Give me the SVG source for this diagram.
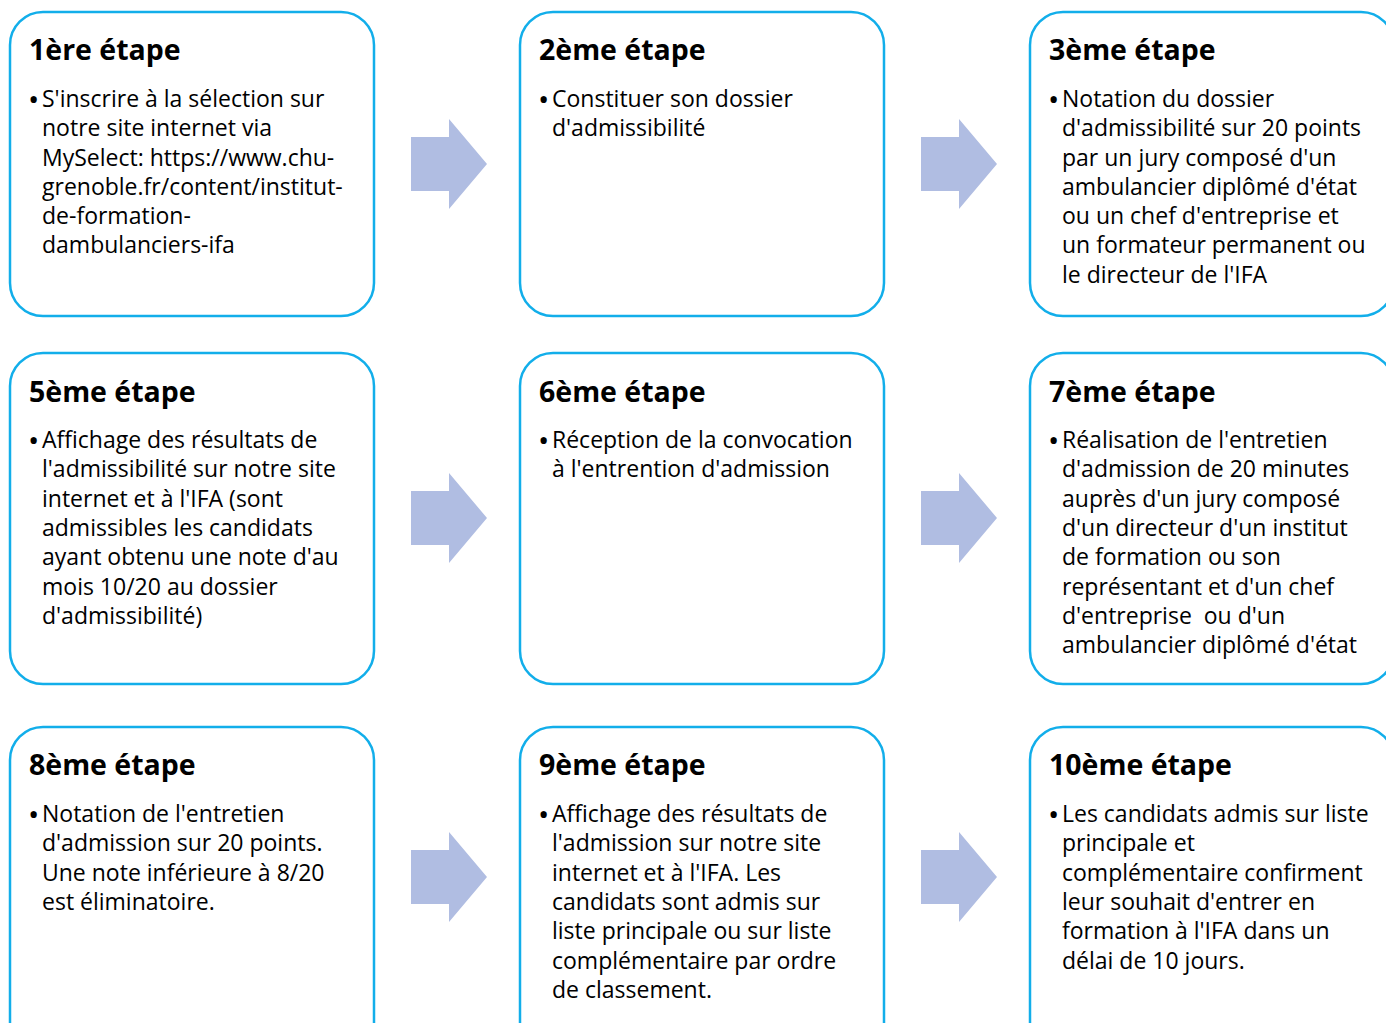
<svg xmlns="http://www.w3.org/2000/svg" width="1386" height="1023" viewBox="0 0 1386 1023">
<style>
.box{fill:#fff;stroke:#12AEEA;stroke-width:2.5}
.arr{fill:#B0BDE2}
.t{font-family:"Open Sans","Liberation Sans",sans-serif;font-weight:bold;font-size:28.5px;fill:#000}
.b{font-family:"Open Sans","Liberation Sans",sans-serif;font-size:23px;fill:#000}
.d{font-family:"Open Sans","Liberation Sans",sans-serif;font-size:30px;fill:#000}
</style>
<rect width="1386" height="1023" fill="#fff"/>
<g id="connectors">
<path class="arr" d="M411,137H449V119L487,164L449,209V191H411Z"/>
<path class="arr" d="M921,137H959V119L997,164L959,209V191H921Z"/>
<path class="arr" d="M411,491H449V473L487,518L449,563V545H411Z"/>
<path class="arr" d="M921,491H959V473L997,518L959,563V545H921Z"/>
<path class="arr" d="M411,850H449V832L487,877L449,922V904H411Z"/>
<path class="arr" d="M921,850H959V832L997,877L959,922V904H921Z"/>
</g>
<g id="step1">
<rect class="box" x="10" y="12" width="364" height="304" rx="33"/>
<text class="t" x="29" y="60">1ère étape</text>
<text class="d" x="28" y="110">•</text>
<text class="b"><tspan x="42" y="107">S'inscrire à la sélection sur</tspan><tspan x="42" y="136">notre site internet via</tspan><tspan x="42" y="166">MySelect: https://www.chu-</tspan><tspan x="42" y="195">grenoble.fr/content/institut-</tspan><tspan x="42" y="224">de-formation-</tspan><tspan x="42" y="253">dambulanciers-ifa</tspan></text>
</g>
<g id="step2">
<rect class="box" x="520" y="12" width="364" height="304" rx="33"/>
<text class="t" x="539" y="60">2ème étape</text>
<text class="d" x="538" y="110">•</text>
<text class="b"><tspan x="552" y="107">Constituer son dossier</tspan><tspan x="552" y="136">d'admissibilité</tspan></text>
</g>
<g id="step3">
<rect class="box" x="1030" y="12" width="364" height="304" rx="33"/>
<text class="t" x="1049" y="60">3ème étape</text>
<text class="d" x="1048" y="110">•</text>
<text class="b"><tspan x="1062" y="107">Notation du dossier</tspan><tspan x="1062" y="136">d'admissibilité sur 20 points</tspan><tspan x="1062" y="166">par un jury composé d'un</tspan><tspan x="1062" y="195">ambulancier diplômé d'état</tspan><tspan x="1062" y="224">ou un chef d'entreprise et</tspan><tspan x="1062" y="253">un formateur permanent ou</tspan><tspan x="1062" y="283">le directeur de l'IFA</tspan></text>
</g>
<g id="step5">
<rect class="box" x="10" y="353" width="364" height="331" rx="33"/>
<text class="t" x="29" y="402">5ème étape</text>
<text class="d" x="28" y="451">•</text>
<text class="b"><tspan x="42" y="448">Affichage des résultats de</tspan><tspan x="42" y="477">l'admissibilité sur notre site</tspan><tspan x="42" y="507">internet et à l'IFA (sont</tspan><tspan x="42" y="536">admissibles les candidats</tspan><tspan x="42" y="565">ayant obtenu une note d'au</tspan><tspan x="42" y="595">mois 10/20 au dossier</tspan><tspan x="42" y="624">d'admissibilité)</tspan></text>
</g>
<g id="step6">
<rect class="box" x="520" y="353" width="364" height="331" rx="33"/>
<text class="t" x="539" y="402">6ème étape</text>
<text class="d" x="538" y="451">•</text>
<text class="b"><tspan x="552" y="448">Réception de la convocation</tspan><tspan x="552" y="477">à l'entrention d'admission</tspan></text>
</g>
<g id="step7">
<rect class="box" x="1030" y="353" width="364" height="331" rx="33"/>
<text class="t" x="1049" y="402">7ème étape</text>
<text class="d" x="1048" y="451">•</text>
<text class="b"><tspan x="1062" y="448">Réalisation de l'entretien</tspan><tspan x="1062" y="477">d'admission de 20 minutes</tspan><tspan x="1062" y="507">auprès d'un jury composé</tspan><tspan x="1062" y="536">d'un directeur d'un institut</tspan><tspan x="1062" y="565">de formation ou son</tspan><tspan x="1062" y="595">représentant et d'un chef</tspan><tspan x="1062" y="624" xml:space="preserve">d'entreprise  ou d'un</tspan><tspan x="1062" y="653">ambulancier diplômé d'état</tspan></text>
</g>
<g id="step8">
<rect class="box" x="10" y="727" width="364" height="331" rx="33"/>
<text class="t" x="29" y="775">8ème étape</text>
<text class="d" x="28" y="825">•</text>
<text class="b"><tspan x="42" y="822">Notation de l'entretien</tspan><tspan x="42" y="851">d'admission sur 20 points.</tspan><tspan x="42" y="881">Une note inférieure à 8/20</tspan><tspan x="42" y="910">est éliminatoire.</tspan></text>
</g>
<g id="step9">
<rect class="box" x="520" y="727" width="364" height="331" rx="33"/>
<text class="t" x="539" y="775">9ème étape</text>
<text class="d" x="538" y="825">•</text>
<text class="b"><tspan x="552" y="822">Affichage des résultats de</tspan><tspan x="552" y="851">l'admission sur notre site</tspan><tspan x="552" y="881">internet et à l'IFA. Les</tspan><tspan x="552" y="910">candidats sont admis sur</tspan><tspan x="552" y="939">liste principale ou sur liste</tspan><tspan x="552" y="969">complémentaire par ordre</tspan><tspan x="552" y="998">de classement.</tspan></text>
</g>
<g id="step10">
<rect class="box" x="1030" y="727" width="364" height="331" rx="33"/>
<text class="t" x="1049" y="775">10ème étape</text>
<text class="d" x="1048" y="825">•</text>
<text class="b"><tspan x="1062" y="822">Les candidats admis sur liste</tspan><tspan x="1062" y="851">principale et</tspan><tspan x="1062" y="881">complémentaire confirment</tspan><tspan x="1062" y="910">leur souhait d'entrer en</tspan><tspan x="1062" y="939">formation à l'IFA dans un</tspan><tspan x="1062" y="969">délai de 10 jours.</tspan></text>
</g>
</svg>
